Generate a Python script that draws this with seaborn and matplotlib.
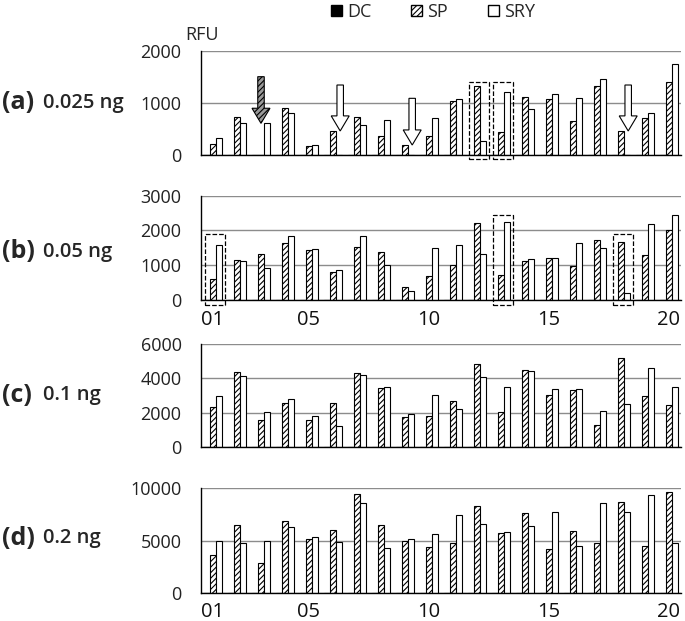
import numpy as np
import pandas as pd
import matplotlib
matplotlib.use('Agg')
import matplotlib.pyplot as plt
import seaborn as sns
from matplotlib.patches import Patch, Rectangle, FancyArrow

sns.set_style('white')
plt.rcParams['font.family'] = ['Open Sans', 'DejaVu Sans']
plt.rcParams['hatch.linewidth'] = 0.8

samples = ['01', '02', '03', '04', '05', '06', '07', '08', '09', '10',
           '11', '12', '13', '14', '15', '16', '17', '18', '19', '20']
series = ['DC', 'SP', 'SRY']

# DC never shows up (all zero)
dc = [0, 0, 0, 0, 0, 0, 0, 0, 0, 0, 0, 0, 0, 0, 0, 0, 0, 0, 0, 0]

# (a) 0.025 ng
sp_a = [205, 730, 0, 904, 173, 455, 730, 372, 192, 372,
        1032, 1333, 442, 1109, 1077, 660, 1333, 468, 705, 1410]
sry_a = [327, 615, 615, 800, 186, 0, 583, 673, 0, 718,
         1070, 270, 1211, 878, 1179, 1096, 1462, 0, 800, 1756]

# (b) 0.05 ng
sp_b = [594, 1150, 1323, 1629, 1438, 815, 1534, 1371, 364, 690,
        1016, 2224, 719, 1112, 1198, 978, 1716, 1677, 1304, 2003]
sry_b = [1591, 1121, 911, 1840, 1457, 853, 1840, 997, 259, 1505,
         1572, 1313, 2252, 1179, 1198, 1649, 1486, 211, 2195, 2435]

# (c) 0.1 ng
sp_c = [2334, 4360, 1563, 2566, 1582, 2566, 4283, 3434, 1756, 1833,
        2701, 4823, 2064, 4457, 3048, 3338, 1312, 5151, 2952, 2469]
sry_c = [2990, 4109, 2064, 2817, 1833, 1215, 4186, 3473, 1929, 3048,
         2238, 4090, 3473, 4399, 3376, 3376, 2122, 2527, 4611, 3511]

# (d) 0.2 ng
sp_d = [3642, 6486, 2843, 6901, 5144, 6006, 9457, 6486, 4984, 4377,
        4728, 8307, 5719, 7636, 4185, 5879, 4792, 8722, 4505, 9681]
sry_d = [4952, 4728, 4920, 6326, 5367, 4824, 8562, 4249, 5176, 5655,
         7476, 6550, 5815, 6390, 7700, 4505, 8594, 7700, 9393, 4728]

panel_tags = ['(a)', '(b)', '(c)', '(d)']
panel_amounts = ['0.025 ng', '0.05 ng', '0.1 ng', '0.2 ng']
panel_yticks = [[0, 1000, 2000], [0, 1000, 2000, 3000],
                [0, 2000, 4000, 6000], [0, 5000, 10000]]
label_idx = [0, 4, 9, 14, 19]

colors = {'DC': 'black', 'SP': 'white', 'SRY': 'white'}

W, H = 685, 621
fig = plt.figure(figsize=(W / 100, H / 100), dpi=100)

# axes boxes in pixels: top, bottom
boxes = [(51, 155), (195.7, 300), (343.7, 447.3), (488.3, 592.7)]
label_y = [102.7, 251.7, 395, 538.3]
left_px, right_px = 201, 681

all_sp = [sp_a, sp_b, sp_c, sp_d]
all_sry = [sry_a, sry_b, sry_c, sry_d]

axes = []
for k in range(4):
    top, bot = boxes[k]
    ax = fig.add_axes([left_px / W, 1 - bot / H, (right_px - left_px) / W, (bot - top) / H])
    axes.append(ax)
    df = pd.DataFrame({
        'sample': samples * 3,
        'series': ['DC'] * 20 + ['SP'] * 20 + ['SRY'] * 20,
        'rfu': dc + all_sp[k] + all_sry[k],
    })
    sns.barplot(data=df, x='sample', y='rfu', hue='series', hue_order=series,
                palette=colors, width=0.73, edgecolor='black', linewidth=0.8,
                saturation=1, errorbar=None, legend=False, ax=ax)
    for bar in ax.containers[1]:
        bar.set_hatch('//////')

    yt = panel_yticks[k]
    ax.set_ylim(0, yt[-1])
    ax.set_yticks(yt)
    ax.set_yticklabels([str(v) for v in yt], fontsize=13, color='#222222')
    ax.yaxis.grid(True, color='#8c8c8c', lw=1)
    ax.set_axisbelow(True)
    ax.set_xlim(-0.5, 19.5)
    ax.set_xticks(np.arange(-0.5, 20, 1), minor=True)
    ax.set_xticks(label_idx)
    if k in (1, 3):
        ax.set_xticklabels([samples[i] for i in label_idx], fontsize=14.5, color='#111111')
    else:
        ax.set_xticklabels([])
    ax.tick_params(axis='x', which='major', length=0, pad=7)
    ax.tick_params(axis='x', which='minor', length=5, width=1, direction='out', color='black')
    ax.tick_params(axis='y', length=7, width=1, direction='out', color='black', pad=7)
    ax.set_xlabel('')
    ax.set_ylabel('')
    sns.despine(ax=ax, top=True, right=True)
    for s in ['left', 'bottom']:
        ax.spines[s].set_color('black')
        ax.spines[s].set_linewidth(1)

    fig.text(2 / W, 1 - label_y[k] / H, panel_tags[k], fontsize=18, fontweight='bold',
             va='center', ha='left')
    fig.text(43 / W, 1 - label_y[k] / H, panel_amounts[k], fontsize=14.5,
             fontweight='semibold', va='center', ha='left')

# arrows in panel (a)
ax = axes[0]
ax.add_patch(FancyArrow(2, 1506, 0, -897, width=0.27, head_width=0.75, head_length=290,
                        length_includes_head=True, facecolor='#9a9a9a', edgecolor='black',
                        hatch='//////', lw=0.8, zorder=5))
for xi, y0, y1 in [(5.3, 1346, 462), (8.3, 1090, 192), (17.3, 1346, 462)]:
    ax.add_patch(FancyArrow(xi, y0, 0, y1 - y0, width=0.27, head_width=0.75, head_length=290,
                            length_includes_head=True, facecolor='white', edgecolor='black',
                            lw=0.8, zorder=5))

# dashed boxes
for k, xi, y0, y1 in [(0, 11, -80, 1410), (0, 12, -80, 1410),
                      (1, 0, -130, 1900), (1, 12, -130, 2440), (1, 17, -130, 1900)]:
    axes[k].add_patch(Rectangle((xi - 0.32, y0), 0.83, y1 - y0, fill=False, ls='--',
                                lw=0.9, edgecolor='black', clip_on=False, zorder=6))

fig.text(185 / W, 1 - 35 / H, 'RFU', fontsize=13, va='center', ha='left')

handles = [Patch(facecolor='black', edgecolor='black'),
           Patch(facecolor='white', edgecolor='black', hatch='//////'),
           Patch(facecolor='white', edgecolor='black')]
fig.legend(handles, series, loc='center', bbox_to_anchor=(0.632, 1 - 12 / H), ncol=3,
           frameon=False, handlelength=0.6, handleheight=0.6, handletextpad=0.3,
           columnspacing=2.2, fontsize=13)

fig.savefig('out.png', dpi=100)
